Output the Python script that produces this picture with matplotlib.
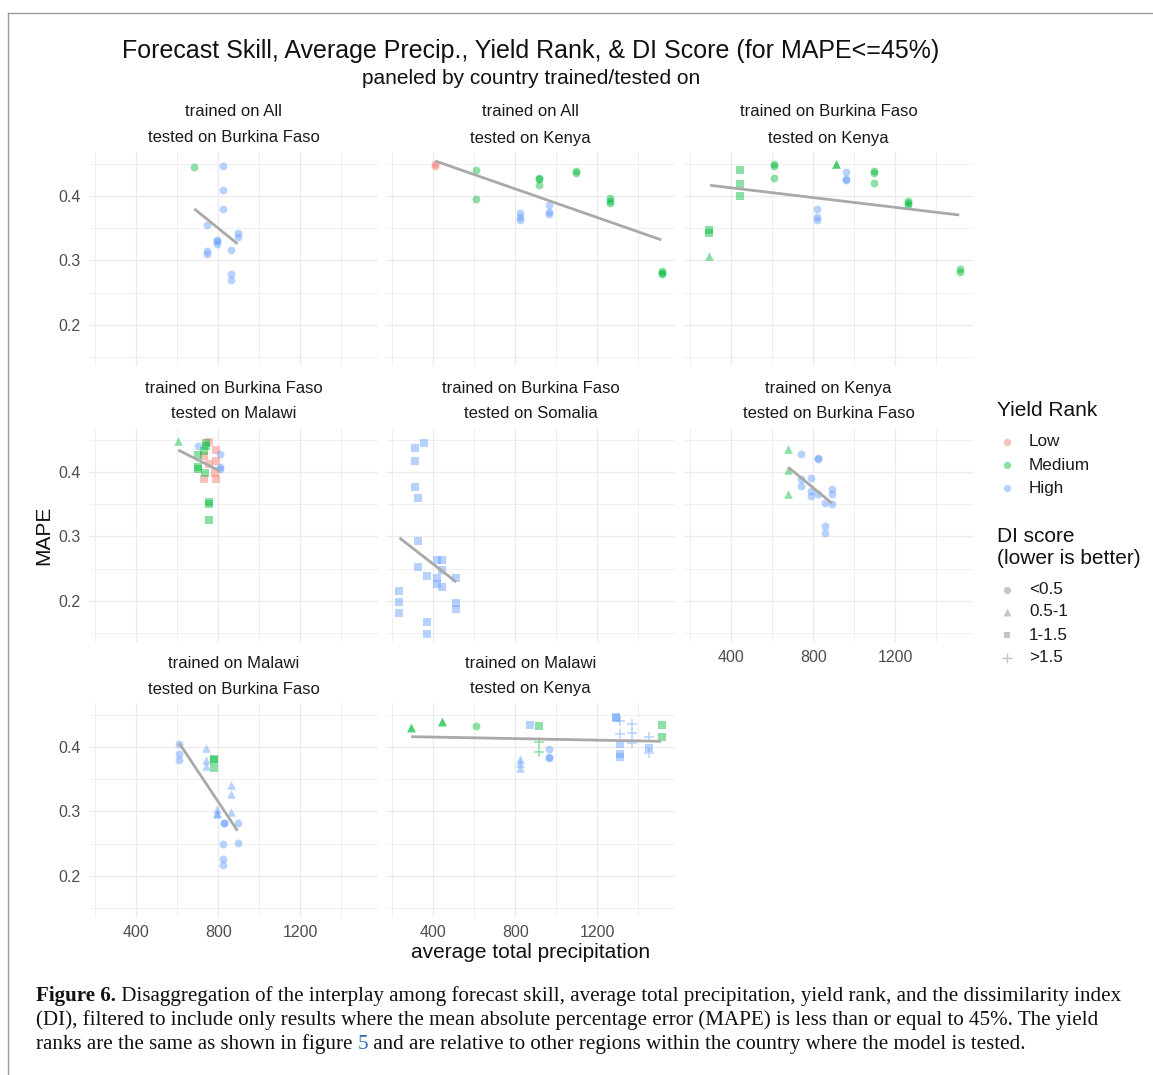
import matplotlib
matplotlib.use('Agg')
import matplotlib.pyplot as plt
from matplotlib.lines import Line2D

W, H = 1153, 1075
DPI = 100

# ---------------- data ----------------
panel_trained = ['All', 'All', 'Burkina Faso', 'Burkina Faso', 'Burkina Faso', 'Kenya', 'Malawi', 'Malawi']
panel_tested = ['Burkina Faso', 'Kenya', 'Kenya', 'Malawi', 'Somalia', 'Burkina Faso', 'Burkina Faso', 'Kenya']

yield_levels = ['Low', 'Medium', 'High']
yield_codes = ['L', 'M', 'H']
di_levels = ['<0.5', '0.5-1', '1-1.5', '>1.5']

x_ticks = [400, 800, 1200]
y_ticks = [0.2, 0.3, 0.4]

# panel 1: trained All, tested Burkina Faso
p1_precip = [681, 823, 823, 823, 743, 896, 896, 796, 796, 796, 743, 743, 864, 864, 864]
p1_mape = [0.4445, 0.447, 0.409, 0.380, 0.3555, 0.343, 0.337, 0.331, 0.330, 0.3256, 0.315, 0.3105, 0.316, 0.279, 0.2693]
p1_yield = ['M'] + ['H'] * 14
p1_di = [0] * 15
p1_fit_precip = [683, 893]
p1_fit_mape = [0.380, 0.326]

# panel 2: trained All, tested Kenya
p2_precip = [410, 410, 610, 610, 822, 822, 822, 913, 913, 913, 963, 963, 963, 1098, 1098, 1263, 1263, 1263, 1514, 1514, 1514]
p2_mape = [0.449, 0.447, 0.440, 0.396, 0.3736, 0.367, 0.3623, 0.428, 0.427, 0.4166, 0.3855, 0.375, 0.372, 0.4388, 0.435, 0.397, 0.392, 0.389, 0.284, 0.281, 0.279]
p2_yield = ['L', 'L', 'M', 'M', 'H', 'H', 'H', 'M', 'M', 'M', 'H', 'H', 'H', 'M', 'M', 'M', 'M', 'M', 'M', 'M', 'M']
p2_di = [0] * 21
p2_fit_precip = [410, 1511]
p2_fit_mape = [0.4543, 0.332]

# panel 3: trained Burkina Faso, tested Kenya
p3_precip = [293, 293, 293, 442, 442, 442, 609, 609, 609, 909, 909, 819, 819, 819, 961, 961, 961, 1097, 1097, 1097, 1260, 1260, 1260, 1514, 1514]
p3_mape = [0.348, 0.343, 0.3075, 0.441, 0.419, 0.400, 0.449, 0.447, 0.428, 0.450, 0.449, 0.380, 0.3675, 0.362, 0.4367, 0.427, 0.425, 0.4388, 0.436, 0.4197, 0.3927, 0.3887, 0.3855, 0.2864, 0.2817]
p3_yield = ['M'] * 11 + ['H'] * 6 + ['M'] * 8
p3_di = [2, 2, 1, 2, 2, 2, 0, 0, 0, 1, 1] + [0] * 6 + [0] * 8
p3_fit_precip = [297, 1511]
p3_fit_mape = [0.4166, 0.3705]

# panel 4: trained Burkina Faso, tested Malawi
p4_precip = [605, 699, 741, 741, 754, 731, 699, 731, 791, 807, 791, 754, 807, 807, 699, 699, 735, 783, 731, 791, 754, 754, 754]
p4_mape = [0.4476, 0.441, 0.4445, 0.440, 0.4465, 0.433, 0.426, 0.425, 0.4336, 0.4284, 0.4166, 0.4124, 0.408, 0.405, 0.407, 0.404, 0.399, 0.399, 0.3887, 0.3897, 0.3535, 0.3504, 0.326]
p4_yield = ['M', 'H', 'M', 'M', 'L', 'M', 'M', 'L', 'L', 'H', 'L', 'L', 'H', 'H', 'M', 'M', 'M', 'L', 'L', 'L', 'M', 'M', 'M']
p4_di = [1, 0, 2, 2, 2, 2, 2, 2, 2, 0, 2, 2, 0, 0, 2, 2, 2, 2, 2, 2, 2, 2, 2]
p4_fit_precip = [605, 807]
p4_fit_mape = [0.434, 0.4016]

# panel 5: trained Burkina Faso, tested Somalia
p5_precip = [353, 309, 309, 309, 326, 326, 326, 372, 418, 444, 444, 418, 418, 444, 513, 513, 513, 234, 234, 234, 372, 372]
p5_mape = [0.445, 0.4372, 0.4175, 0.3767, 0.3592, 0.293, 0.2527, 0.2388, 0.2631, 0.264, 0.2476, 0.2361, 0.2264, 0.2222, 0.2357, 0.1974, 0.188, 0.2155, 0.1984, 0.181, 0.168, 0.1493]
p5_yield = ['H'] * 22
p5_di = [2] * 22
p5_fit_precip = [235, 512]
p5_fit_mape = [0.298, 0.2295]

# panel 6: trained Kenya, tested Burkina Faso
p6_precip = [676, 676, 676, 740, 822, 822, 740, 740, 791, 791, 791, 822, 891, 891, 859, 891, 859, 859]
p6_mape = [0.435, 0.4026, 0.3659, 0.4284, 0.422, 0.4206, 0.3887, 0.378, 0.3907, 0.3705, 0.3628, 0.3664, 0.3741, 0.3659, 0.3524, 0.3509, 0.3163, 0.3054]
p6_yield = ['M'] * 3 + ['H'] * 15
p6_di = [1] * 3 + [0] * 15
p6_fit_precip = [678, 891]
p6_fit_mape = [0.4073, 0.3515]

# panel 7: trained Malawi, tested Burkina Faso
p7_precip = [610, 610, 610, 741, 741, 741, 777, 777, 777, 864, 864, 796, 796, 796, 864, 828, 828, 896, 823, 896, 823, 823]
p7_mape = [0.405, 0.3887, 0.3794, 0.398, 0.380, 0.3705, 0.381, 0.380, 0.367, 0.341, 0.3267, 0.3034, 0.2972, 0.2965, 0.2997, 0.2822, 0.2815, 0.2822, 0.249, 0.2516, 0.2268, 0.2165]
p7_yield = ['H'] * 6 + ['M'] * 3 + ['H'] * 13
p7_di = [0, 0, 0, 1, 1, 1, 2, 2, 2, 1, 1, 1, 1, 1, 1, 0, 0, 0, 0, 0, 0, 0]
p7_fit_precip = [610, 893]
p7_fit_mape = [0.4057, 0.2703]

# panel 8: trained Malawi, tested Kenya
p8_precip = [293, 293, 444, 444, 610, 872, 913, 913, 913, 822, 822, 822, 963, 963, 963, 1289, 1289, 1308, 1312, 1312, 1312, 1308, 1370, 1370, 1370, 1451, 1451, 1451, 1514, 1514]
p8_mape = [0.4305, 0.4295, 0.4398, 0.4390, 0.4326, 0.4346, 0.4326, 0.407, 0.3918, 0.381, 0.3747, 0.367, 0.3964, 0.384, 0.3835, 0.446, 0.445, 0.441, 0.404, 0.3887, 0.385, 0.4197, 0.435, 0.4212, 0.4057, 0.416, 0.391, 0.399, 0.4341, 0.4155]
p8_yield = ['M', 'M', 'M', 'M', 'M', 'H', 'M', 'M', 'M', 'H', 'H', 'H', 'H', 'H', 'H', 'H', 'H', 'H', 'H', 'H', 'H', 'H', 'H', 'H', 'H', 'H', 'H', 'H', 'M', 'M']
p8_di = [1, 1, 1, 1, 0, 2, 2, 3, 3, 1, 1, 1, 0, 0, 0, 2, 2, 3, 2, 2, 2, 3, 3, 3, 3, 3, 3, 2, 2, 2]
p8_fit_precip = [293, 1511]
p8_fit_mape = [0.416, 0.4088]

panels_precip = [p1_precip, p2_precip, p3_precip, p4_precip, p5_precip, p6_precip, p7_precip, p8_precip]
panels_mape = [p1_mape, p2_mape, p3_mape, p4_mape, p5_mape, p6_mape, p7_mape, p8_mape]
panels_yield = [p1_yield, p2_yield, p3_yield, p4_yield, p5_yield, p6_yield, p7_yield, p8_yield]
panels_di = [p1_di, p2_di, p3_di, p4_di, p5_di, p6_di, p7_di, p8_di]
panels_fit_x = [p1_fit_precip, p2_fit_precip, p3_fit_precip, p4_fit_precip, p5_fit_precip, p6_fit_precip, p7_fit_precip, p8_fit_precip]
panels_fit_y = [p1_fit_mape, p2_fit_mape, p3_fit_mape, p4_fit_mape, p5_fit_mape, p6_fit_mape, p7_fit_mape, p8_fit_mape]

# ---------------- style ----------------
yield_colors = {'L': '#F8766D', 'M': '#00BA38', 'H': '#619CFF'}
di_markers = ['o', '^', 's', '+']
di_sizes = [32, 38, 28, 60]
ALPHA = 0.45
GRID = '#EBEBEB'
SANS = ['Liberation Sans', 'DejaVu Sans']
SERIF = ['Liberation Serif', 'DejaVu Serif']
plt.rcParams['font.family'] = SANS

fig = plt.figure(figsize=(W / DPI, H / DPI), dpi=DPI)
fig.patch.set_facecolor('white')


def fx(px):
    return px / W


def fy(py):
    return 1 - py / H


col_left = [89, 386, 684]
row_top = [152, 428, 703]
PW, PH = 289, 214
XLIM = (170, 1578)
YLIM = (0.1364, 0.4682)

for i in range(8):
    r, c = divmod(i, 3)
    left, top = col_left[c], row_top[r]
    ax = fig.add_axes([fx(left), fy(top + PH), PW / W, PH / H])
    ax.set_xlim(*XLIM)
    ax.set_ylim(*YLIM)
    ax.set_facecolor('white')
    for s in ax.spines.values():
        s.set_visible(False)
    ax.set_xticks(x_ticks)
    ax.set_xticks([200, 600, 1000, 1400], minor=True)
    ax.set_yticks(y_ticks)
    ax.set_yticks([0.15, 0.25, 0.35, 0.45], minor=True)
    ax.grid(True, which='major', color=GRID, lw=0.9)
    ax.grid(True, which='minor', color=GRID, lw=0.55)
    ax.set_axisbelow(True)
    ax.tick_params(which='both', length=0, labelsize=11.5, labelcolor='#4D4D4D', pad=6)
    show_x = (r == 2) or (i == 5)
    show_y = (c == 0)
    if not show_x:
        ax.set_xticklabels([])
    if not show_y:
        ax.set_yticklabels([])
    else:
        ax.set_yticklabels(['%.1f' % v for v in y_ticks])

    xs, ys, yl, di = panels_precip[i], panels_mape[i], panels_yield[i], panels_di[i]
    for k in range(4):
        for code in yield_codes:
            sel = [j for j in range(len(xs)) if di[j] == k and yl[j] == code]
            if not sel:
                continue
            col = yield_colors[code]
            if di_markers[k] == '+':
                ax.scatter([xs[j] for j in sel], [ys[j] for j in sel], marker='+', s=di_sizes[k],
                           color=col, alpha=ALPHA, linewidths=1.1, zorder=3)
            else:
                ax.scatter([xs[j] for j in sel], [ys[j] for j in sel], marker=di_markers[k], s=di_sizes[k],
                           color=col, alpha=ALPHA, linewidths=0, zorder=3)
    ax.plot(panels_fit_x[i], panels_fit_y[i], color='#A9A9A9', lw=2.0, solid_capstyle='butt', zorder=4)

    cx = left + PW / 2
    fig.text(fx(cx), fy(top - 40), 'trained on ' + panel_trained[i], ha='center', va='center',
             fontsize=12, color='#1A1A1A')
    fig.text(fx(cx), fy(top - 14), 'tested on ' + panel_tested[i], ha='center', va='center',
             fontsize=12, color='#1A1A1A')

# titles and axis labels
fig.text(fx(531), fy(51), 'Forecast Skill, Average Precip., Yield Rank, & DI Score (for MAPE<=45%)',
         ha='center', va='center', fontsize=18, color='#111111')
fig.text(fx(531), fy(79), 'paneled by country trained/tested on', ha='center', va='center',
         fontsize=15, color='#111111')
fig.text(fx(531), fy(952), 'average total precipitation', ha='center', va='center', fontsize=15, color='#111111')
fig.text(fx(44), fy(535), 'MAPE', ha='center', va='center', rotation=90, fontsize=15, color='#111111')

# overlay for legend and border
ov = fig.add_axes([0, 0, 1, 1], zorder=10)
ov.set_xlim(0, W)
ov.set_ylim(H, 0)
ov.axis('off')
ov.patch.set_alpha(0)

ov.text(997, 411, 'Yield Rank', ha='left', va='center', fontsize=15, color='#111111')
leg_y = [442, 465, 488]
for code, lab, yy in zip(yield_codes, yield_levels, leg_y):
    ov.scatter([1007], [yy], marker='o', s=28, color=yield_colors[code], alpha=ALPHA, linewidths=0)
    ov.text(1029, yy, lab, ha='left', va='center', fontsize=12.3, color='#1A1A1A')

ov.text(997, 537, 'DI score', ha='left', va='center', fontsize=15, color='#111111')
ov.text(997, 559, '(lower is better)', ha='left', va='center', fontsize=15, color='#111111')
di_leg_y = [590, 612, 635, 658]
for k, (lab, yy) in enumerate(zip(di_levels, di_leg_y)):
    if di_markers[k] == '+':
        ov.scatter([1007], [yy], marker='+', s=di_sizes[k] - 10, color='#7F7F7F', alpha=ALPHA, linewidths=1.0)
    else:
        ov.scatter([1007], [yy], marker=di_markers[k], s=di_sizes[k] - 6, color='#7F7F7F', alpha=ALPHA, linewidths=0)
    ov.text(1029, yy, lab, ha='left', va='center', fontsize=12.3, color='#1A1A1A')

# border lines of the figure box
ov.add_line(Line2D([8, 8], [13, H], color='#9A9A9A', lw=1.0))
ov.add_line(Line2D([8, W], [13, 13], color='#9A9A9A', lw=1.0))

# caption
CAP = 15.1
cap_lines_y = [996, 1020, 1044]
t = ov.text(36, cap_lines_y[0], 'Figure 6.', ha='left', va='center', fontsize=CAP, fontweight='bold',
            family=SERIF, color='#111111')
ov.annotate(' Disaggregation of the interplay among forecast skill, average total precipitation, yield rank, '
            'and the dissimilarity index', xy=(1, 0), xycoords=t, ha='left', va='bottom',
            fontsize=CAP, family=SERIF, color='#111111')
ov.text(36, cap_lines_y[1], '(DI), filtered to include only results where the mean absolute percentage error '
        '(MAPE) is less than or equal to 45%. The yield', ha='left', va='center', fontsize=CAP,
        family=SERIF, color='#111111')
t3 = ov.text(36, cap_lines_y[2], 'ranks are the same as shown in figure ', ha='left', va='center',
             fontsize=CAP, family=SERIF, color='#111111')
t4 = ov.annotate('5', xy=(1, 0), xycoords=t3, ha='left', va='bottom', fontsize=CAP, family=SERIF,
                 color='#2E6DB4')
ov.annotate(' and are relative to other regions within the country where the model is tested.',
            xy=(1, 0), xycoords=t4, ha='left', va='bottom', fontsize=CAP, family=SERIF, color='#111111')

fig.savefig('out.png', dpi=DPI, facecolor='white')
